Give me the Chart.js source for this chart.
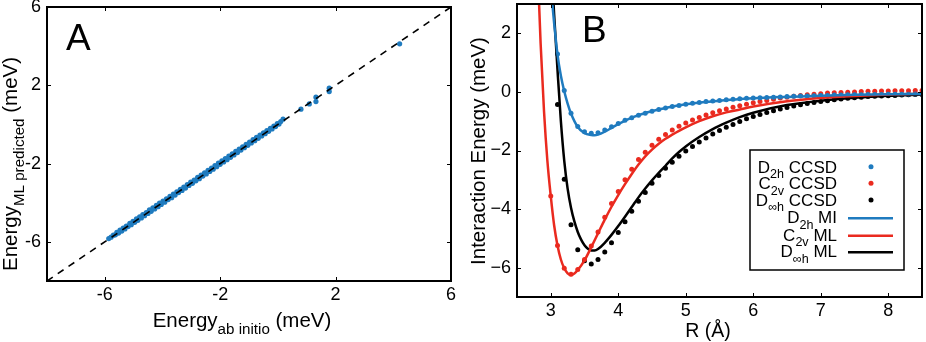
<!DOCTYPE html>
<html>
<head>
<meta charset="utf-8">
<script src="https://cdn.jsdelivr.net/npm/chart.js@4.4.0/dist/chart.umd.min.js"></script>
<style>
  html, body { margin: 0; padding: 0; background: #fff; }
  #wrapA { position: absolute; left: 0; top: 0; width: 460px; height: 342px; }
  #wrapB { position: absolute; left: 460px; top: 0; width: 466px; height: 342px; }
</style>
</head>
<body>
<div id="wrapA"><canvas id="chartA"></canvas></div>
<div id="wrapB"><canvas id="chartB"></canvas></div>
<script>
// ---- panel A: ML predicted vs ab initio ----
const xTicksA = [-6, -2, 2, 6];
const yTicksA = [-6, -2, 2, 6];
const diagA = [-8, 6];
const abInitio = [-5.86,-5.78,-5.70,-5.63,-5.58,-5.52,-5.47,-5.41,-5.36,-5.30,-5.25,-5.19,-5.13,-5.08,-5.02,-4.96,-4.90,-4.85,-4.79,-4.73,-4.68,-4.62,-4.56,-4.50,-4.45,-4.39,-4.33,-4.27,-4.21,-4.15,-4.10,-4.04,-3.98,-3.92,-3.86,-3.80,-3.74,-3.68,-3.62,-3.56,-3.50,-3.44,-3.38,-3.32,-3.26,-3.20,-3.14,-3.08,-3.02,-2.96,-2.90,-2.84,-2.78,-2.72,-2.66,-2.60,-2.54,-2.48,-2.42,-2.36,-2.30,-2.24,-2.18,-2.12,-2.06,-2.00,-1.94,-1.88,-1.82,-1.76,-1.70,-1.64,-1.58,-1.52,-1.46,-1.40,-1.34,-1.28,-1.22,-1.16,-1.10,-1.04,-0.98,-0.92,-0.86,-0.80,-0.74,-0.68,-0.62,-0.56,-0.50,-0.44,-0.38,-0.32,-0.26,-0.20,-0.14,-0.08,-0.02,0.04,0.10,0.18,0.80,1.09,1.32,1.32,1.78,1.78,4.22];
const mlPredicted = [-5.83,-5.76,-5.66,-5.64,-5.52,-5.55,-5.40,-5.45,-5.30,-5.34,-5.19,-5.22,-5.05,-5.12,-4.95,-5.00,-4.83,-4.90,-4.72,-4.78,-4.61,-4.66,-4.50,-4.55,-4.37,-4.44,-4.26,-4.32,-4.14,-4.20,-4.02,-4.09,-3.92,-3.97,-3.80,-3.84,-3.68,-3.74,-3.56,-3.61,-3.45,-3.48,-3.32,-3.37,-3.20,-3.25,-3.08,-3.12,-2.95,-3.01,-2.84,-2.88,-2.71,-2.77,-2.59,-2.64,-2.47,-2.53,-2.35,-2.40,-2.23,-2.29,-2.11,-2.16,-1.98,-2.04,-1.86,-1.92,-1.74,-1.80,-1.62,-1.68,-1.50,-1.56,-1.38,-1.44,-1.26,-1.31,-1.14,-1.19,-1.02,-1.07,-0.90,-0.95,-0.78,-0.83,-0.66,-0.71,-0.55,-0.59,-0.43,-0.47,-0.31,-0.35,-0.20,-0.23,-0.08,-0.11,0.04,0.02,0.15,0.27,0.78,1.05,1.39,1.17,1.85,1.68,4.12];

// ---- panel B: interaction energy curves ----
const xTicksB = [3, 4, 5, 6, 7, 8];
const yTicksB = [-6, -4, -2, 0, 2];
const rCCSD = [3.0,3.1,3.2,3.3,3.4,3.5,3.6,3.7,3.8,3.9,4.0,4.1,4.2,4.3,4.4,4.5,4.6,4.7,4.8,4.9,5.0,5.1,5.2,5.3,5.4,5.5,5.6,5.7,5.8,5.9,6.0,6.1,6.2,6.3,6.4,6.5,6.6,6.7,6.8,6.9,7.0,7.1,7.2,7.3,7.4,7.5,7.6,7.7,7.8,7.9,8.0,8.1,8.2,8.3,8.4,8.5];
const d2hCCSD = [null,1.29,0.05,-0.73,-1.18,-1.36,-1.41,-1.39,-1.30,-1.19,-1.08,-0.97,-0.88,-0.80,-0.73,-0.66,-0.60,-0.55,-0.50,-0.46,-0.42,-0.39,-0.36,-0.33,-0.31,-0.29,-0.27,-0.25,-0.23,-0.22,-0.21,-0.20,-0.19,-0.18,-0.17,-0.16,-0.15,-0.14,-0.14,-0.13,-0.12,-0.12,-0.11,-0.11,-0.10,-0.10,-0.10,-0.09,-0.09,-0.09,-0.08,-0.08,-0.08,-0.08,-0.07,-0.07];
const c2vCCSD = [-3.55,-5.24,-6.02,-6.22,-6.06,-5.72,-5.26,-4.78,-4.28,-3.81,-3.40,-3.00,-2.64,-2.31,-2.06,-1.82,-1.62,-1.45,-1.30,-1.17,-1.06,-0.96,-0.87,-0.79,-0.71,-0.64,-0.58,-0.52,-0.47,-0.42,-0.37,-0.33,-0.29,-0.25,-0.21,-0.18,-0.15,-0.12,-0.10,-0.08,-0.06,-0.04,-0.03,-0.02,-0.01,0.00,0.01,0.02,0.02,0.03,0.03,0.04,0.04,0.04,0.05,0.05];
const dinfhCCSD = [null,-0.43,-2.98,-4.53,-5.39,-5.76,-5.87,-5.72,-5.46,-5.15,-4.80,-4.43,-4.07,-3.73,-3.43,-3.12,-2.85,-2.61,-2.40,-2.20,-2.02,-1.86,-1.71,-1.57,-1.44,-1.32,-1.21,-1.11,-1.01,-0.92,-0.84,-0.77,-0.70,-0.64,-0.58,-0.53,-0.48,-0.44,-0.40,-0.36,-0.33,-0.30,-0.27,-0.24,-0.22,-0.20,-0.18,-0.16,-0.15,-0.14,-0.13,-0.12,-0.11,-0.10,-0.09,-0.09];

const rD2hML = [3.0,3.05,3.1,3.15,3.2,3.25,3.3,3.4,3.5,3.6,3.65,3.7,3.8,3.9,4.0,4.2,4.4,4.6,4.8,5.0,5.5,6.0,6.5,7.0,7.5,8.0,8.5];
const d2hML = [3.6,2.35,1.27,0.55,0.02,-0.40,-0.74,-1.20,-1.41,-1.47,-1.48,-1.46,-1.36,-1.23,-1.10,-0.88,-0.72,-0.60,-0.50,-0.42,-0.30,-0.22,-0.17,-0.13,-0.10,-0.08,-0.07];
const rC2vML = [2.8,2.85,2.9,2.95,3.0,3.05,3.1,3.15,3.2,3.25,3.3,3.35,3.4,3.5,3.6,3.7,3.8,3.9,4.0,4.1,4.2,4.3,4.4,4.5,4.6,4.7,4.8,4.9,5.0,5.2,5.4,5.6,5.8,6.0,6.5,7.0,7.5,8.0,8.5];
const c2vML = [4.65,1.65,-0.65,-2.35,-3.55,-4.55,-5.24,-5.72,-6.02,-6.19,-6.25,-6.2,-6.08,-5.75,-5.3,-4.83,-4.36,-3.92,-3.52,-3.15,-2.8,-2.48,-2.2,-1.97,-1.77,-1.6,-1.46,-1.33,-1.21,-1.0,-0.83,-0.7,-0.6,-0.5,-0.32,-0.21,-0.14,-0.09,-0.06];
const rDinfhML = [3.0,3.05,3.1,3.15,3.2,3.25,3.3,3.35,3.4,3.45,3.5,3.55,3.6,3.65,3.7,3.8,3.9,4.0,4.1,4.2,4.3,4.4,4.5,4.6,4.7,4.8,4.9,5.0,5.2,5.4,5.6,5.8,6.0,6.5,7.0,7.5,8.0,8.5];
const dinfhML = [4.8,2.65,0.75,-1.0,-2.35,-3.3,-3.95,-4.42,-4.78,-5.04,-5.23,-5.35,-5.41,-5.41,-5.36,-5.15,-4.88,-4.58,-4.26,-3.93,-3.6,-3.3,-3.02,-2.76,-2.52,-2.27,-2.05,-1.86,-1.54,-1.27,-1.05,-0.86,-0.71,-0.45,-0.3,-0.2,-0.13,-0.09];

const FONT = "'Liberation Sans', Arial, sans-serif";
const BLUE = '#1f7bbf';
const RED = '#ea2a1f';
const BLACK = '#000000';

const pts = (xs, ys) => xs.map((x, i) => ({ x: x, y: ys[i] }));

// text with subscripts: parts = [[text, isSub], ...]
function drawRich(ctx, parts, x, y, align, size) {
  const sub = size * 0.74;
  let w = 0;
  parts.forEach(p => { ctx.font = (p[1] ? sub : size) + 'px ' + FONT; w += ctx.measureText(p[0]).width; });
  let cx = align === 'right' ? x - w : align === 'center' ? x - w / 2 : x;
  ctx.textAlign = 'left';
  ctx.textBaseline = 'alphabetic';
  ctx.fillStyle = '#000';
  parts.forEach(p => {
    ctx.font = (p[1] ? sub : size) + 'px ' + FONT;
    ctx.fillText(p[0], cx, y + (p[1] ? size * 0.32 : 0));
    cx += ctx.measureText(p[0]).width;
  });
}

// box round the plot and inward ticks on all four sides
const framePlugin = {
  id: 'frame',
  afterDraw(chart) {
    const { ctx, chartArea: a } = chart;
    const sx = chart.scales.x, sy = chart.scales.y;
    ctx.save();
    ctx.strokeStyle = '#000';
    ctx.lineWidth = 1;
    ctx.beginPath();
    sx.ticks.forEach(t => {
      const px = Math.round(sx.getPixelForValue(t.value)) + 0.5;
      ctx.moveTo(px, a.bottom); ctx.lineTo(px, a.bottom - 4);
      ctx.moveTo(px, a.top); ctx.lineTo(px, a.top + 4);
    });
    sy.ticks.forEach(t => {
      const py = Math.round(sy.getPixelForValue(t.value)) + 0.5;
      ctx.moveTo(a.left, py); ctx.lineTo(a.left + 4, py);
      ctx.moveTo(a.right, py); ctx.lineTo(a.right - 4, py);
    });
    ctx.stroke();
    ctx.lineWidth = 2;
    ctx.strokeRect(a.left, a.top, a.right - a.left, a.bottom - a.top);
    ctx.restore();
  }
};

const tickFont = { family: FONT, size: 18 };

function axes(xr, yr, xt, yt, yw, xh, fmt) {
  return {
    x: {
      type: 'linear', min: xr[0], max: xr[1],
      afterBuildTicks: s => { s.ticks = xt.map(v => ({ value: v })); },
      afterFit: s => { s.height = xh; s.paddingLeft = 0; s.paddingRight = 0; },
      grid: { display: false, drawTicks: false },
      border: { display: false },
      ticks: { font: tickFont, color: '#000', padding: 3, maxRotation: 0, callback: fmt }
    },
    y: {
      type: 'linear', min: yr[0], max: yr[1],
      afterBuildTicks: s => { s.ticks = yt.map(v => ({ value: v })); },
      afterFit: s => { s.width = yw; s.paddingTop = 0; s.paddingBottom = 0; },
      grid: { display: false, drawTicks: false },
      border: { display: false },
      ticks: { font: tickFont, color: '#000', padding: 6, callback: fmt }
    }
  };
}

// ---------- chart A ----------
const labelsA = {
  id: 'labelsA',
  afterDraw(chart) {
    const ctx = chart.ctx;
    ctx.save();
    ctx.fillStyle = '#000';
    ctx.font = '37px ' + FONT;
    ctx.textBaseline = 'alphabetic';
    ctx.textAlign = 'left';
    ctx.fillText('A', 66, 50);
    drawRich(ctx, [['Energy'], ['ab initio', 1], [' (meV)']], 242, 327, 'center', 20.5);
    ctx.translate(17, 164);
    ctx.rotate(-Math.PI / 2);
    drawRich(ctx, [['Energy'], ['ML predicted', 1], [' (meV)']], 0, 0, 'center', 20.5);
    ctx.restore();
  }
};

new Chart(document.getElementById('chartA'), {
  type: 'scatter',
  data: {
    datasets: [
      {
        type: 'line',
        data: pts(diagA, diagA),
        borderColor: BLACK,
        borderWidth: 1.6,
        borderDash: [7, 6],
        pointRadius: 0,
        fill: false
      },
      {
        data: pts(abInitio, mlPredicted),
        backgroundColor: BLUE,
        borderWidth: 0,
        pointRadius: 2.6
      }
    ]
  },
  options: {
    responsive: true,
    maintainAspectRatio: false,
    animation: false,
    layout: { padding: { left: 0, top: 7, right: 9, bottom: 0 } },
    plugins: { legend: { display: false }, tooltip: { enabled: false } },
    scales: axes([-8, 6], [-8, 6], xTicksA, yTicksA, 47, 61, v => String(v))
  },
  plugins: [framePlugin, labelsA]
});

// ---------- chart B ----------
const legendRowsB = [
  { parts: [['D'], ['2h', 1], [' CCSD']], color: BLUE, dot: true },
  { parts: [['C'], ['2v', 1], [' CCSD']], color: RED, dot: true },
  { parts: [['D'], ['\u221Eh', 1], [' CCSD']], color: BLACK, dot: true },
  { parts: [['D'], ['2h', 1], [' MI']], color: BLUE, dot: false },
  { parts: [['C'], ['2v', 1], [' ML']], color: RED, dot: false },
  { parts: [['D'], ['\u221Eh', 1], [' ML']], color: BLACK, dot: false }
];

const labelsB = {
  id: 'labelsB',
  afterDraw(chart) {
    const ctx = chart.ctx;
    ctx.save();
    ctx.fillStyle = '#000';
    ctx.font = '37px ' + FONT;
    ctx.textBaseline = 'alphabetic';
    ctx.textAlign = 'left';
    ctx.fillText('B', 122, 42);
    drawRich(ctx, [['R (\u00C5)']], 248, 337, 'center', 19.5);
    ctx.save();
    ctx.translate(25, 151);
    ctx.rotate(-Math.PI / 2);
    drawRich(ctx, [['Interaction Energy (meV)']], 0, 0, 'center', 20.5);
    ctx.restore();
    // legend
    ctx.fillStyle = '#fff';
    ctx.fillRect(290, 150, 154, 120);
    ctx.strokeStyle = '#000';
    ctx.lineWidth = 1.5;
    ctx.strokeRect(290, 150, 154, 120);
    const base = [172.7, 189.3, 206, 223.3, 240.7, 257.3];
    legendRowsB.forEach((row, i) => {
      drawRich(ctx, row.parts, 377, base[i], 'right', 17);
      const cy = base[i] - 6;
      if (row.dot) {
        ctx.fillStyle = row.color;
        ctx.beginPath();
        ctx.arc(411, cy, 2.5, 0, Math.PI * 2);
        ctx.fill();
      } else {
        ctx.strokeStyle = row.color;
        ctx.lineWidth = 2.5;
        ctx.beginPath();
        ctx.moveTo(388, cy + 1);
        ctx.lineTo(433, cy + 1);
        ctx.stroke();
      }
    });
    ctx.restore();
  }
};

const lineSet = (xs, ys, color) => ({
  type: 'line',
  data: pts(xs, ys),
  borderColor: color,
  borderWidth: 2.5,
  pointRadius: 0,
  cubicInterpolationMode: 'monotone',
  fill: false
});
const dotSet = (ys, color) => ({
  data: pts(rCCSD, ys),
  backgroundColor: color,
  borderWidth: 0,
  pointRadius: 2.5
});

new Chart(document.getElementById('chartB'), {
  type: 'scatter',
  data: {
    datasets: [
      lineSet(rD2hML, d2hML, BLUE),
      lineSet(rC2vML, c2vML, RED),
      lineSet(rDinfhML, dinfhML, BLACK),
      dotSet(d2hCCSD, BLUE),
      dotSet(c2vCCSD, RED),
      dotSet(dinfhCCSD, BLACK)
    ]
  },
  options: {
    responsive: true,
    maintainAspectRatio: false,
    animation: false,
    layout: { padding: { left: 0, top: 3, right: 1.5, bottom: 0 } },
    plugins: { legend: { display: false }, tooltip: { enabled: false } },
    scales: axes([2.5, 8.5], [-7, 3], xTicksB, yTicksB, 57, 45, v => String(v).replace('-', '\u2212'))
  },
  plugins: [framePlugin, labelsB]
});
</script>
</body>
</html>
